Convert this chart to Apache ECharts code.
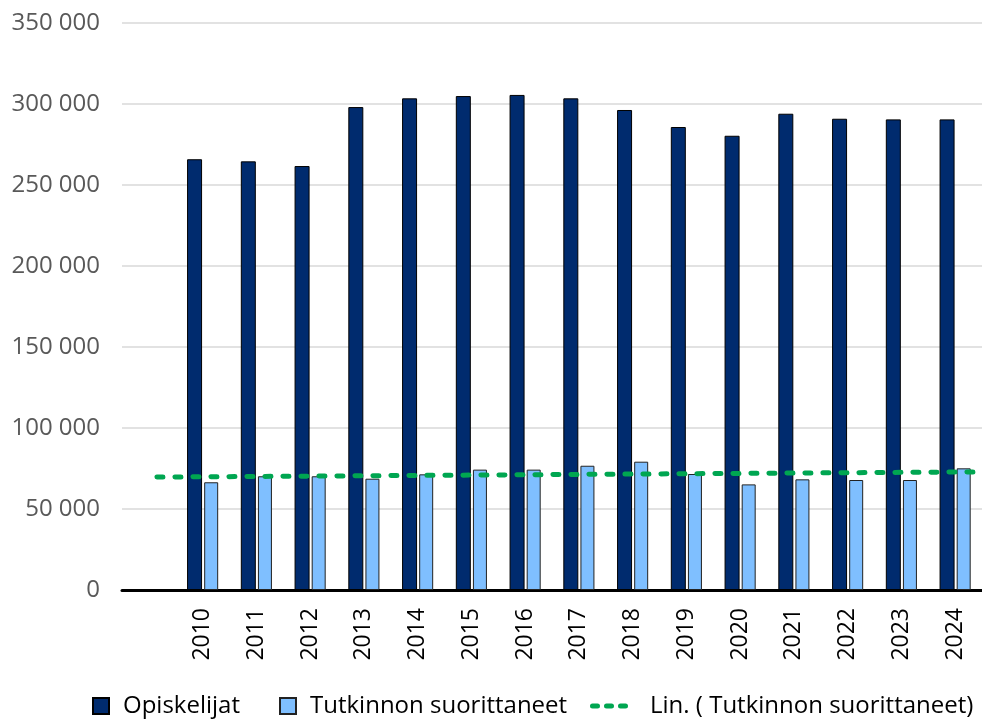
<!DOCTYPE html>
<html>
<head>
<meta charset="utf-8">
<script src="https://cdn.jsdelivr.net/npm/echarts@6/dist/echarts.min.js"></script>
<style>
  html, body { margin: 0; padding: 0; background: #fff; }
  #chart { width: 982px; height: 722px; }
</style>
</head>
<body>
<div id="chart"></div>
<script>
// first category is left empty, as in the original chart
const years = ['', '2010', '2011', '2012', '2013', '2014', '2015', '2016', '2017',
    '2018', '2019', '2020', '2021', '2022', '2023', '2024'];

const opiskelijat = [null, 265900, 264600, 261700, 298100, 303500, 304900, 305600,
    303500, 296300, 285800, 280400, 294000, 290900, 290500, 290500];

const tutkinnot = [null, 66500, 70200, 70200, 68700, 71400, 74300, 74300,
    76700, 79200, 71600, 65200, 68300, 67900, 67900, 75100];

// trend line end points (x in category units, 0..16)
const trendX = [0.65, 15.85];
const trendY = [69700, 72900];

const yTicks = { min: 0, max: 350000, interval: 50000 };

const FONT = 'Open Sans';
const GREEN = '#00a651';

// three rounded dots for the trend line legend key
const dotsIcon = 'path://M2.5,0h5a2.5,2.5 0 0 1 0,5h-5a2.5,2.5 0 0 1 0,-5z' +
    'M16.5,0h5a2.5,2.5 0 0 1 0,5h-5a2.5,2.5 0 0 1 0,-5z' +
    'M30.5,0h5a2.5,2.5 0 0 1 0,5h-5a2.5,2.5 0 0 1 0,-5z';

const chart = echarts.init(document.getElementById('chart'), null, { renderer: 'canvas' });

chart.setOption({
    animation: false,
    backgroundColor: '#fff',
    textStyle: { fontFamily: FONT },
    grid: { left: 122, right: -6, top: 23, bottom: 132, containLabel: false },
    legend: [{
        left: 87,
        top: 689,
        itemWidth: 16,
        itemHeight: 16,
        itemGap: 39,
        textStyle: { fontFamily: FONT, fontSize: 24, color: '#000', padding: [0, 0, 0, 9] },
        data: [
            { name: 'Opiskelijat', icon: 'rect' },
            { name: 'Tutkinnon suorittaneet', icon: 'rect' }
        ]
    }, {
        left: 585,
        top: 689,
        itemWidth: 38,
        itemHeight: 5,
        textStyle: { fontFamily: FONT, fontSize: 24, color: '#000', padding: [0, 0, 0, 17] },
        data: [{
            name: 'Lin. ( Tutkinnon suorittaneet)',
            icon: dotsIcon,
            itemStyle: { color: GREEN, borderWidth: 0 }
        }]
    }],
    xAxis: [{
        type: 'category',
        data: years,
        boundaryGap: true,
        axisLine: { lineStyle: { color: '#000', width: 3 } },
        axisTick: { show: false },
        axisLabel: {
            rotate: 90,
            margin: 18,
            interval: 0,
            fontFamily: FONT,
            fontSize: 23,
            color: '#000'
        }
    }, {
        type: 'value',
        min: 0,
        max: 16,
        show: false
    }],
    yAxis: {
        type: 'value',
        min: yTicks.min,
        max: yTicks.max,
        interval: yTicks.interval,
        axisLine: { show: false },
        axisTick: { show: false },
        splitLine: { lineStyle: { color: '#d9d9d9', width: 1.5 } },
        axisLabel: {
            margin: 22,
            fontFamily: FONT,
            fontSize: 24,
            color: '#595959',
            formatter: v => String(v).replace(/\B(?=(\d{3})+(?!\d))/g, ' ')
        }
    },
    series: [{
        name: 'Opiskelijat',
        type: 'bar',
        data: opiskelijat,
        barWidth: 15,
        barGap: '14%',
        itemStyle: { color: '#002b6e', borderColor: '#000', borderWidth: 1 }
    }, {
        name: 'Tutkinnon suorittaneet',
        type: 'bar',
        data: tutkinnot,
        barWidth: 14,
        itemStyle: { color: '#7fbfff', borderColor: '#222', borderWidth: 1 }
    }, {
        name: 'Lin. ( Tutkinnon suorittaneet)',
        type: 'line',
        xAxisIndex: 1,
        data: trendX.map((x, i) => [x, trendY[i]]),
        symbol: 'none',
        z: 5,
        lineStyle: { color: GREEN, width: 5, type: [6, 12], cap: 'round' }
    }]
});
</script>
</body>
</html>
